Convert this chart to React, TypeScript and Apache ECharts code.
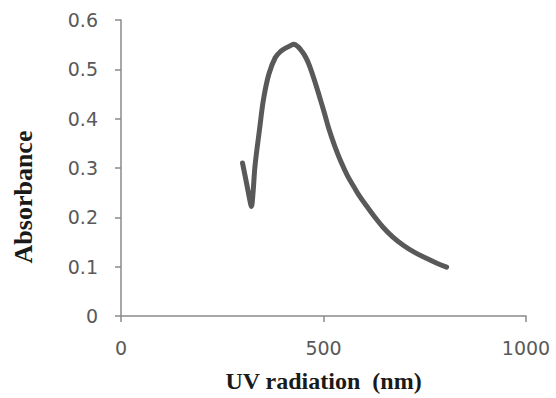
import React, { useEffect, useRef } from "react";
import * as echarts from "echarts";

const wavelengths = [300, 311, 318, 322, 326, 331, 342, 352, 365, 381, 395, 406, 418, 427, 437, 448, 457, 465, 478, 490, 502, 513, 528, 544, 560, 575, 589, 610, 630, 647, 670, 696, 725, 754, 780, 804];
const absorbance = [0.31, 0.265, 0.235, 0.222, 0.25, 0.305, 0.378, 0.44, 0.49, 0.524, 0.537, 0.543, 0.548, 0.551, 0.546, 0.535, 0.523, 0.508, 0.477, 0.445, 0.412, 0.38, 0.344, 0.311, 0.283, 0.262, 0.243, 0.219, 0.197, 0.18, 0.161, 0.144, 0.129, 0.117, 0.107, 0.099];

const xTicks = [0, 500, 1000];
const yTicks = [0, 0.1, 0.2, 0.3, 0.4, 0.5, 0.6];
const xTitle = "UV radiation  (nm)";
const yTitle = "Absorbance";

export default function App() {
  const ref = useRef<HTMLDivElement>(null);
  useEffect(() => {
    if (!ref.current) return;
    const chart = echarts.init(ref.current, null, { renderer: "svg" });
    const axisColor = "#8a8a8a";
    const labelStyle = { color: "#595959", fontFamily: "DejaVu Sans", fontSize: 19 };
    chart.setOption({
      animation: false,
      grid: { left: 121, right: 30, top: 20, bottom: 79, containLabel: false },
      xAxis: {
        type: "value",
        min: xTicks[0],
        max: xTicks[xTicks.length - 1],
        interval: xTicks[1] - xTicks[0],
        splitLine: { show: false },
        axisLine: { show: true, lineStyle: { color: axisColor, width: 1.5 } },
        axisTick: { show: true, length: 6, lineStyle: { color: axisColor, width: 1.5 } },
        axisLabel: { ...labelStyle, margin: 22, formatter: (v: number) => String(v) },
        name: xTitle,
        nameLocation: "middle",
        nameGap: 53,
        nameTextStyle: { fontFamily: "Liberation Serif", fontWeight: "bold", fontSize: 24, color: "#1a1a1a" },
      },
      yAxis: {
        type: "value",
        min: yTicks[0],
        max: yTicks[yTicks.length - 1],
        interval: 0.1,
        splitLine: { show: false },
        axisLine: { show: true, lineStyle: { color: axisColor, width: 1.5 } },
        axisTick: { show: true, length: 6, lineStyle: { color: axisColor, width: 1.5 } },
        axisLabel: { ...labelStyle, margin: 23, formatter: (v: number) => (Math.round(v * 10) / 10).toString() },
      },
      graphic: [
        {
          type: "text",
          x: 23,
          y: 197,
          rotation: Math.PI / 2,
          style: {
            text: yTitle,
            fontFamily: "Liberation Serif",
            fontWeight: "bold",
            fontSize: 26,
            fill: "#1a1a1a",
            align: "center",
            verticalAlign: "middle",
          },
        },
      ],
      series: [
        {
          type: "line",
          data: wavelengths.map((w, i) => [w, absorbance[i]]),
          showSymbol: false,
          smooth: 0.35,
          lineStyle: { color: "#595959", width: 5, cap: "round", join: "round" },
        },
      ],
    });
    return () => chart.dispose();
  }, []);
  return <div ref={ref} style={{ width: 556, height: 398, position: "absolute", left: 0, top: 0, background: "#fff" }} />;
}
